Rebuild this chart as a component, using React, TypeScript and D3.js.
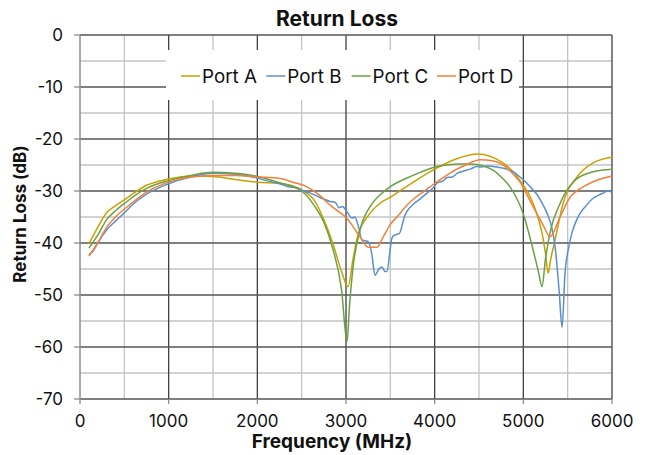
import React from 'react';
import * as d3 from 'd3';

type Pt = [number, number];

// frequency (MHz), return loss (dB)
const portA: Pt[] = [
  [100, -40.2], [200, -37], [300, -34.2], [400, -32.8], [500, -31.7], [750, -28.9], [1000, -27.7],
  [1250, -27.1], [1500, -27.2], [1750, -27.8], [2000, -28.3], [2250, -28.5], [2500, -29.8],
  [2650, -32], [2750, -35.5], [2850, -40], [2950, -45.5], [3023, -48.4], [3080, -43], [3130, -38.8],
  [3240, -35], [3380, -32.4], [3500, -31.2], [3650, -29.5], [3760, -28.3], [3980, -26], [4250, -23.8],
  [4480, -22.9], [4770, -24.6], [4960, -27.9], [5110, -32.4], [5210, -38], [5250, -42], [5279, -45.8],
  [5310, -43], [5358, -39.4], [5448, -32.4], [5606, -27.3], [5787, -24.6], [6000, -23.5],
];

const portB: Pt[] = [
  [100, -42.3], [150, -41.5], [200, -40], [300, -37.5], [400, -35.8], [500, -34.2], [600, -32.5],
  [750, -30.6], [900, -29.3], [1000, -28.6], [1100, -28], [1250, -27.3], [1500, -26.6], [1750, -26.8],
  [2000, -27.5], [2100, -28], [2250, -28.6], [2350, -29.2], [2450, -29.4], [2520, -30], [2600, -30.4],
  [2700, -31.2], [2820, -32], [2880, -32.2], [2920, -33.2], [2960, -33], [3011, -34], [3068, -35.2],
  [3100, -35], [3135, -36.5], [3180, -39.4], [3248, -39.7], [3290, -42], [3327, -46.2], [3370, -45],
  [3406, -44.6], [3440, -45.5], [3462, -45.5], [3500, -41], [3519, -39], [3560, -38.4], [3600, -38.2],
  [3666, -34.6], [3700, -33.6], [3756, -32.6], [3830, -31.6], [3914, -30.4], [3970, -29.6],
  [4027, -28.5], [4100, -28], [4140, -27.4], [4200, -27.3], [4252, -26.6], [4320, -26.2],
  [4400, -25.8], [4478, -25.3], [4512, -25.4], [4600, -25.2], [4700, -25.4], [4771, -25.6],
  [4850, -26], [4963, -27.3], [5040, -28.5], [5110, -29.8], [5160, -30.8], [5200, -32], [5268, -34.3],
  [5320, -37], [5358, -40.7], [5403, -49], [5437, -56.2], [5470, -45.8], [5510, -41], [5549, -38],
  [5600, -35.6], [5640, -34.3], [5700, -33], [5787, -31.4], [5850, -30.8], [5900, -30.4],
  [5950, -30], [6000, -30.2],
];

const portC: Pt[] = [
  [100, -41], [200, -38.5], [300, -35.5], [400, -33.8], [500, -32.4], [750, -29.5], [1000, -28],
  [1250, -27], [1500, -26.4], [1750, -26.6], [2000, -27.2], [2250, -28.4], [2500, -30], [2650, -33],
  [2750, -36], [2850, -41], [2950, -49], [3011, -59], [3040, -52], [3080, -44.6], [3158, -37.5],
  [3271, -33], [3380, -30.8], [3497, -29.2], [3756, -27], [4027, -25.3], [4252, -24.8], [4400, -24.8],
  [4550, -25.2], [4659, -26], [4750, -27.3], [4850, -29.2], [4997, -34.3], [5110, -41.3],
  [5170, -45.5], [5211, -48.4], [5250, -43], [5301, -38], [5414, -32.4], [5560, -28.3],
  [5787, -26.3], [6000, -25.8],
];

const portD: Pt[] = [
  [100, -42.5], [200, -40], [300, -37], [400, -35], [500, -33.5], [750, -30.2], [1000, -28.3],
  [1250, -27.3], [1500, -27], [1750, -27], [2000, -27.3], [2256, -27.6], [2400, -28.3], [2560, -29.2],
  [2700, -30.8], [2820, -32.7], [2920, -34], [3011, -35.3], [3158, -38.8], [3250, -40.8],
  [3350, -40.8], [3420, -38.8], [3497, -36.5], [3600, -34.5], [3689, -32.7], [3780, -31.3],
  [3869, -30.2], [3981, -28.8], [4100, -27.4], [4207, -26.2], [4350, -25], [4512, -24], [4650, -24.2],
  [4771, -25], [4870, -26.5], [4963, -28.3], [5050, -31], [5110, -33], [5222, -36.5], [5301, -38.8],
  [5414, -35], [5527, -31.2], [5620, -29.8], [5719, -28.8], [5850, -27.8], [6000, -27.1],
];

const seriesNames = ['Port A', 'Port B', 'Port C', 'Port D'];
const seriesData = [portA, portB, portC, portD];
const seriesColors = ['#c9a100', '#5b8fcc', '#6aa142', '#f0803c'];

const xTicks = [0, 1000, 2000, 3000, 4000, 5000, 6000];
const yTicks = [0, -10, -20, -30, -40, -50, -60, -70];

const W = 648;
const H = 455;
const margin = { top: 35, right: 36, bottom: 56, left: 80 };
const FONT = 'Inter, "Noto Sans", sans-serif';

export default function App() {
  const x = d3.scaleLinear().domain([0, 6000]).range([margin.left, W - margin.right]);
  const y = d3.scaleLinear().domain([-70, 0]).range([H - margin.bottom, margin.top]);

  const line = d3
    .line<Pt>()
    .x((d) => x(d[0]))
    .y((d) => y(d[1]))
    .curve(d3.curveMonotoneX);

  const minorX = d3.range(500, 6000, 1000);
  const minorY = d3.range(-65, 0, 10);

  const x0 = x(0), x1 = x(6000), y0 = y(-70), y1 = y(0);

  const legendX = 166;
  const legendY = 50;
  const legendStep = 85.3;

  return (
    <svg width={W} height={H} style={{ position: 'absolute', left: 0, top: 0, background: '#fff' }}>
      {/* minor grid */}
      {minorX.map((v) => (
        <line key={'mx' + v} x1={x(v)} x2={x(v)} y1={y1} y2={y0} stroke="#c4c4c4" strokeWidth={1.3} />
      ))}
      {minorY.map((v) => (
        <line key={'my' + v} x1={x0} x2={x1} y1={y(v)} y2={y(v)} stroke="#c4c4c4" strokeWidth={1.3} />
      ))}
      {/* major grid */}
      {xTicks.slice(1).map((v) => (
        <line key={'gx' + v} x1={x(v)} x2={x(v)} y1={y1} y2={y0} stroke="#404040" strokeWidth={1.3} />
      ))}
      {yTicks.map((v) => (
        <line key={'gy' + v} x1={x0} x2={x1} y1={y(v)} y2={y(v)} stroke="#555" strokeWidth={1.4} />
      ))}
      <line x1={x0} x2={x0} y1={y1} y2={y0} stroke="#8c8c8c" strokeWidth={1.5} />
      {/* ticks */}
      {yTicks.map((v) => (
        <line key={'ty' + v} x1={x0 - 6} x2={x0} y1={y(v)} y2={y(v)} stroke="#8c8c8c" strokeWidth={1.3} />
      ))}
      {xTicks.map((v) => (
        <line key={'tx' + v} x1={x(v)} x2={x(v)} y1={y0} y2={y0 + 5} stroke="#8c8c8c" strokeWidth={1.3} />
      ))}

      {/* legend box */}
      <rect x={legendX} y={legendY} width={353} height={50} fill="#fff" />

      {/* series */}
      {seriesData.map((d, i) => (
        <path key={seriesNames[i]} d={line(d) ?? ''} fill="none" stroke={seriesColors[i]} strokeWidth={1.5} />
      ))}

      {/* legend */}
      {seriesNames.map((name, i) => {
        const lx = 181 + i * legendStep;
        return (
          <g key={'lg' + name}>
            <line x1={lx} x2={lx + 19} y1={76} y2={76} stroke={seriesColors[i]} strokeWidth={1.5} />
            <text x={lx + 21} y={82.5} fontFamily={FONT} fontSize={18.8} fill="#111">
              {name}
            </text>
          </g>
        );
      })}

      {/* tick labels */}
      {yTicks.map((v) => (
        <text key={'ly' + v} x={63} y={y(v) + 6} textAnchor="end" fontFamily={FONT} fontSize={17} fill="#111">
          {v}
        </text>
      ))}
      {xTicks.map((v) => (
        <text key={'lx' + v} x={x(v)} y={427} textAnchor="middle" fontFamily={FONT} fontSize={17} fill="#111">
          {v}
        </text>
      ))}

      {/* titles */}
      <text x={337} y={26} textAnchor="middle" fontFamily={FONT} fontSize={21} fontWeight={700} fill="#111">
        Return Loss
      </text>
      <text x={332} y={448} textAnchor="middle" fontFamily={FONT} fontSize={19} fontWeight={700} fill="#111">
        Frequency (MHz)
      </text>
      <text
        transform={`translate(26,${214}) rotate(-90)`}
        textAnchor="middle"
        fontFamily={FONT}
        fontSize={17}
        fontWeight={700}
        fill="#111"
      >
        Return Loss (dB)
      </text>
    </svg>
  );
}
